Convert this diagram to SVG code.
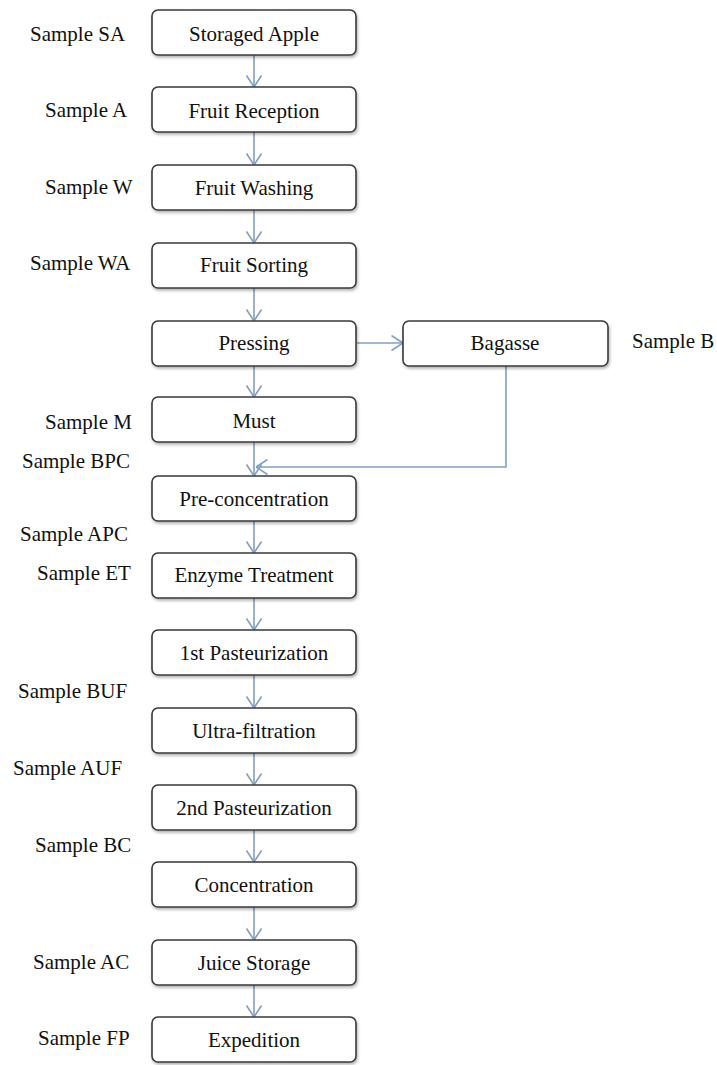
<svg xmlns="http://www.w3.org/2000/svg" width="717" height="1065" viewBox="0 0 717 1065">
<style>
.box{fill:#fff;stroke:#3a3a3a;stroke-width:1.6;filter:url(#sh)}
.t{font-family:"Liberation Serif","Times New Roman",serif;font-size:21px;fill:#111}
.c{text-anchor:middle}
.ln{fill:none;stroke:#7f9fc6;stroke-width:1.6}
</style>
<defs>
<filter id="sh" x="-5%" y="-10%" width="110%" height="130%">
<feDropShadow dx="1" dy="2" stdDeviation="1.5" flood-color="#000" flood-opacity="0.3"/>
</filter>
<marker id="ah" viewBox="0 0 12 16" refX="12" refY="8" markerWidth="12" markerHeight="16" markerUnits="userSpaceOnUse" orient="auto">
<path d="M0.5,0.5 L12,8 L0.5,15.5" fill="none" stroke="#7f9fc6" stroke-width="1.6"/>
</marker>
</defs>
<rect width="717" height="1065" fill="#fff"/>
<g id="connectors">
<line class="ln" x1="254" y1="55" x2="254" y2="87" marker-end="url(#ah)"/>
<line class="ln" x1="254" y1="132" x2="254" y2="165" marker-end="url(#ah)"/>
<line class="ln" x1="254" y1="210" x2="254" y2="243" marker-end="url(#ah)"/>
<line class="ln" x1="254" y1="288" x2="254" y2="321" marker-end="url(#ah)"/>
<line class="ln" x1="357" y1="343" x2="403" y2="343" marker-end="url(#ah)"/>
<line class="ln" x1="254" y1="366" x2="254" y2="397" marker-end="url(#ah)"/>
<line class="ln" x1="254" y1="442" x2="254" y2="476" marker-end="url(#ah)"/>
<polyline class="ln" points="506,365 506,467 256,467" marker-end="url(#ah)"/>
<line class="ln" x1="254" y1="521" x2="254" y2="553" marker-end="url(#ah)"/>
<line class="ln" x1="254" y1="598" x2="254" y2="630" marker-end="url(#ah)"/>
<line class="ln" x1="254" y1="675" x2="254" y2="708" marker-end="url(#ah)"/>
<line class="ln" x1="254" y1="753" x2="254" y2="785" marker-end="url(#ah)"/>
<line class="ln" x1="254" y1="830" x2="254" y2="862" marker-end="url(#ah)"/>
<line class="ln" x1="254" y1="907" x2="254" y2="940" marker-end="url(#ah)"/>
<line class="ln" x1="254" y1="985" x2="254" y2="1017" marker-end="url(#ah)"/>
</g>
<g id="n1"><rect class="box" x="152" y="10" width="204" height="45" rx="6"/><text class="t c" x="254" y="41">Storaged Apple</text></g>
<g id="n2"><rect class="box" x="152" y="87" width="204" height="45" rx="6"/><text class="t c" x="254" y="118">Fruit Reception</text></g>
<g id="n3"><rect class="box" x="152" y="165" width="204" height="45" rx="6"/><text class="t c" x="254" y="195">Fruit Washing</text></g>
<g id="n4"><rect class="box" x="152" y="243" width="204" height="45" rx="6"/><text class="t c" x="254" y="272">Fruit Sorting</text></g>
<g id="n5"><rect class="box" x="152" y="321" width="204" height="45" rx="6"/><text class="t c" x="254" y="350">Pressing</text></g>
<g id="n6"><rect class="box" x="403" y="321" width="205" height="45" rx="6"/><text class="t c" x="505" y="350">Bagasse</text></g>
<g id="n7"><rect class="box" x="152" y="397" width="204" height="45" rx="6"/><text class="t c" x="254" y="428">Must</text></g>
<g id="n8"><rect class="box" x="152" y="476" width="204" height="45" rx="6"/><text class="t c" x="254" y="506">Pre-concentration</text></g>
<g id="n9"><rect class="box" x="152" y="553" width="204" height="45" rx="6"/><text class="t c" x="254" y="582">Enzyme Treatment</text></g>
<g id="n10"><rect class="box" x="152" y="630" width="204" height="45" rx="6"/><text class="t c" x="254" y="660">1st Pasteurization</text></g>
<g id="n11"><rect class="box" x="152" y="708" width="204" height="45" rx="6"/><text class="t c" x="254" y="738">Ultra-filtration</text></g>
<g id="n12"><rect class="box" x="152" y="785" width="204" height="45" rx="6"/><text class="t c" x="254" y="815">2nd Pasteurization</text></g>
<g id="n13"><rect class="box" x="152" y="862" width="204" height="45" rx="6"/><text class="t c" x="254" y="892">Concentration</text></g>
<g id="n14"><rect class="box" x="152" y="940" width="204" height="45" rx="6"/><text class="t c" x="254" y="970">Juice Storage</text></g>
<g id="n15"><rect class="box" x="152" y="1017" width="204" height="45" rx="6"/><text class="t c" x="254" y="1047">Expedition</text></g>
<g id="labels">
<text class="t" x="30" y="41">Sample SA</text>
<text class="t" x="45" y="117">Sample A</text>
<text class="t" x="45" y="194">Sample W</text>
<text class="t" x="30" y="270">Sample WA</text>
<text class="t" x="632" y="348">Sample B</text>
<text class="t" x="45" y="429">Sample M</text>
<text class="t" x="22" y="468">Sample BPC</text>
<text class="t" x="20" y="541">Sample APC</text>
<text class="t" x="37" y="580">Sample ET</text>
<text class="t" x="18" y="698">Sample BUF</text>
<text class="t" x="13" y="775">Sample AUF</text>
<text class="t" x="35" y="852">Sample BC</text>
<text class="t" x="33" y="969">Sample AC</text>
<text class="t" x="38" y="1045">Sample FP</text>
</g>
</svg>
